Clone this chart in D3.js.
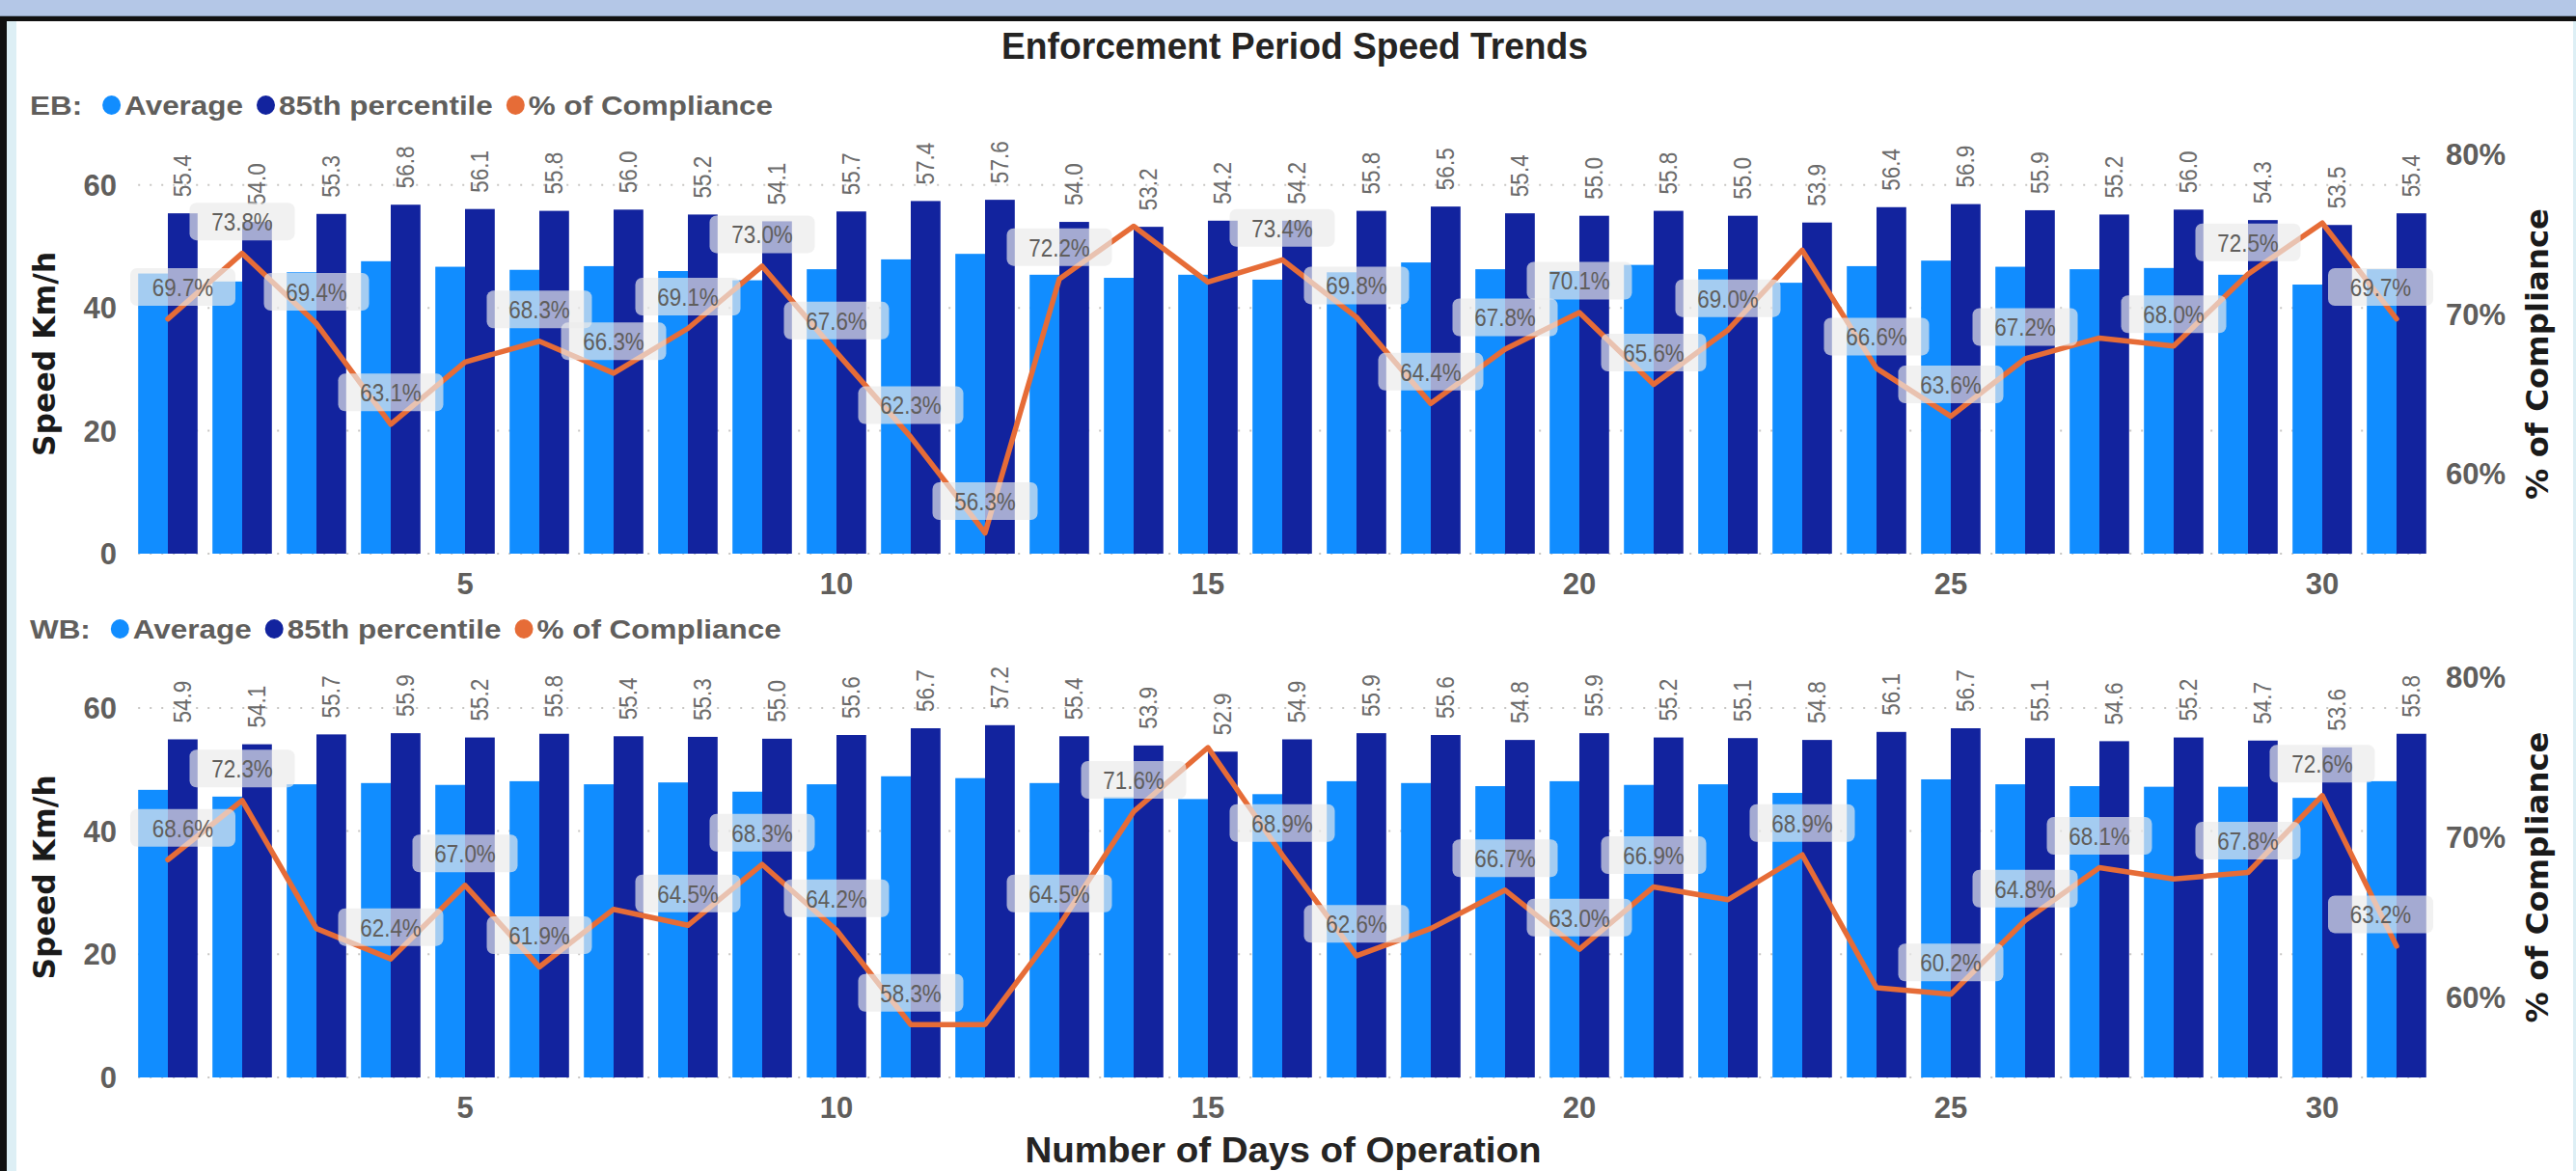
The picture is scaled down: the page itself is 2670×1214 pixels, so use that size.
<!DOCTYPE html>
<html><head><meta charset="utf-8">
<script src="https://cdn.jsdelivr.net/npm/d3@7"></script>
<style>html,body{margin:0;padding:0;background:#fff;overflow:hidden;} svg{display:block;}</style>
</head><body>
<svg id="chart" width="2670" height="1214"></svg>
<script>
// ---------- DATA ----------
const days = [1,2,3,4,5,6,7,8,9,10,11,12,13,14,15,16,17,18,19,20,21,22,23,24,25,26,27,28,29,30,31];
const xTickValues = [5,10,15,20,25,30];
const speedTicks = [0,20,40,60];
const complianceTicks = [60,70,80];
const seriesNames = ["Average","85th percentile","% of Compliance"];
const chartTitle = "Enforcement Period Speed Trends";
const xAxisTitle = "Number of Days of Operation";
const yLeftTitle = "Speed Km/h";
const yRightTitle = "% of Compliance";

const ebAverage = [45.6,44.3,45.8,47.6,46.7,46.2,46.8,46.0,44.5,46.3,47.9,48.8,45.4,44.9,45.4,44.6,45.8,47.4,46.3,46.0,47.0,46.3,44.1,46.8,47.7,46.7,46.3,46.5,45.4,43.8,46.3];
const eb85th = [55.4,54.0,55.3,56.8,56.1,55.8,56.0,55.2,54.1,55.7,57.4,57.6,54.0,53.2,54.2,54.2,55.8,56.5,55.4,55.0,55.8,55.0,53.9,56.4,56.9,55.9,55.2,56.0,54.3,53.5,55.4];
const ebCompliance = [69.7,73.8,69.4,63.1,67.0,68.3,66.3,69.1,73.0,67.6,62.3,56.3,72.2,75.5,72.0,73.4,69.8,64.4,67.8,70.1,65.6,69.0,74.0,66.6,63.6,67.2,68.5,68.0,72.5,75.7,69.7];
const ebLabeledDays = [1,2,3,4,6,7,8,9,10,11,12,13,16,17,18,19,20,21,22,24,25,26,28,29,31];

const wbAverage = [46.7,45.6,47.6,47.8,47.5,48.1,47.6,47.9,46.4,47.6,48.9,48.6,47.8,45.5,45.2,46.0,48.1,47.8,47.3,48.1,47.5,47.6,46.2,48.4,48.4,47.6,47.3,47.2,47.2,45.4,48.1];
const wb85th = [54.9,54.1,55.7,55.9,55.2,55.8,55.4,55.3,55.0,55.6,56.7,57.2,55.4,53.9,52.9,54.9,55.9,55.6,54.8,55.9,55.2,55.1,54.8,56.1,56.7,55.1,54.6,55.2,54.7,53.6,55.8];
const wbCompliance = [68.6,72.3,64.3,62.4,67.0,61.9,65.5,64.5,68.3,64.2,58.3,58.3,64.5,71.6,75.6,68.9,62.6,64.3,66.7,63.0,66.9,66.1,68.9,60.6,60.2,64.8,68.1,67.4,67.8,72.6,63.2];
const wbLabeledDays = [1,2,4,5,6,8,9,10,11,13,14,16,17,19,20,21,23,25,26,27,29,30,31];

// ---------- STYLE ----------
const colors = {avg:"#118DFF", p85:"#12239E", line:"#E66C37", tick:"#605E5C", label:"#6b6b6b", title:"#252423"};
const boldFont = "'Liberation Sans', Arial, sans-serif";
const heavyFont = "'DejaVu Sans', sans-serif";

const svg = d3.select("#chart");
const W = 2670, H = 1214;
svg.append("rect").attr("width",W).attr("height",H).attr("fill","#fff");

// frame
svg.append("rect").attr("x",0).attr("y",0).attr("width",W).attr("height",16).attr("fill","#b4c7e7");
svg.append("rect").attr("x",0).attr("y",16).attr("width",W).attr("height",1).attr("fill","#8497b0");
svg.append("rect").attr("x",0).attr("y",17).attr("width",W).attr("height",5).attr("fill","#111");
svg.append("rect").attr("x",0).attr("y",17).attr("width",7).attr("height",H-17).attr("fill","#111");
svg.append("rect").attr("x",7).attr("y",22).attr("width",10).attr("height",H-22).attr("fill","#ddeff5");
svg.append("rect").attr("x",W-3).attr("y",22).attr("width",3).attr("height",H-22).attr("fill","#ddeff5");

// title
svg.append("text").attr("x",1342).attr("y",61).attr("text-anchor","middle")
  .attr("font-family",boldFont).attr("font-weight","bold").attr("font-size",38)
  .attr("fill",colors.title).attr("textLength",608).attr("lengthAdjust","spacingAndGlyphs")
  .text(chartTitle);

// x axis title
svg.append("text").attr("x",1330).attr("y",1205).attr("text-anchor","middle")
  .attr("font-family",boldFont).attr("font-weight","bold").attr("font-size",36)
  .attr("fill",colors.title).attr("textLength",535).attr("lengthAdjust","spacingAndGlyphs")
  .text(xAxisTitle);

const x = d3.scaleLinear().domain([1,31]).range([174,2484]);
const step = x(2) - x(1);
const barW = step * 0.4;

const panels = [
  {name:"EB", avg:ebAverage, p85:eb85th, comp:ebCompliance, labeled:ebLabeledDays, top:160, bottom:574, legendY:109},
  {name:"WB", avg:wbAverage, p85:wb85th, comp:wbCompliance, labeled:wbLabeledDays, top:702, bottom:1117, legendY:652}
];

function fitText(sel, factor) {
  sel.each(function() {
    const w = this.getComputedTextLength() * factor;
    d3.select(this).attr("textLength", w).attr("lengthAdjust","spacingAndGlyphs");
  });
}

function drawLegend(name, y) {
  const g = svg.append("g");
  const sx = 1.164;
  let cx = 31;
  const fs = 27;
  function addText(t, xpos) {
    const el = g.append("text").attr("x",xpos).attr("y",y+9.5)
      .attr("font-family",boldFont).attr("font-weight","bold").attr("font-size",fs)
      .attr("fill",colors.tick).text(t);
    const w = el.node().getComputedTextLength() * sx;
    el.attr("textLength",w).attr("lengthAdjust","spacingAndGlyphs");
    return w;
  }
  cx += addText(name + ":", cx) + 21;
  const cols = [colors.avg, colors.p85, colors.line];
  seriesNames.forEach((s,i) => {
    g.append("ellipse").attr("cx",cx+9.5).attr("cy",y).attr("rx",9.5).attr("ry",10).attr("fill",cols[i]);
    cx += 19 + 4;
    cx += addText(s, cx) + 14;
  });
}

panels.forEach(p => {
  const yL = d3.scaleLinear().domain([0,65]).range([p.bottom,p.top]);
  const yR = d3.scaleLinear().domain([55,80]).range([p.bottom,p.top]);
  const g = svg.append("g");

  drawLegend(p.name, p.legendY);

  // gridlines
  g.selectAll(".grid").data(speedTicks).enter().append("line")
    .attr("x1",x(1)-barW).attr("x2",x(31)+barW)
    .attr("y1",d=>yL(d)).attr("y2",d=>yL(d))
    .attr("stroke","#c8c6c4").attr("stroke-width",2).attr("stroke-dasharray","2,10");

  // left ticks
  g.selectAll(".lt").data(speedTicks).enter().append("text")
    .attr("x",121).attr("y",d=>yL(d)).attr("dy","0.36em").attr("text-anchor","end")
    .attr("font-family",boldFont).attr("font-weight","bold").attr("font-size",31)
    .attr("fill",colors.tick).text(d=>d);
  // right ticks
  g.selectAll(".rt").data(complianceTicks).enter().append("text")
    .attr("x",2535).attr("y",d=>yR(d)).attr("dy","0.36em").attr("text-anchor","start")
    .attr("font-family",boldFont).attr("font-weight","bold").attr("font-size",31)
    .attr("fill",colors.tick).text(d=>d+"%");
  // x ticks
  g.selectAll(".xt").data(xTickValues).enter().append("text")
    .attr("x",d=>x(d)).attr("y",p.bottom+31).attr("dy","0.36em").attr("text-anchor","middle")
    .attr("font-family",boldFont).attr("font-weight","bold").attr("font-size",31)
    .attr("fill",colors.tick).text(d=>d);

  // axis titles
  const cy = (p.top+p.bottom)/2;
  g.append("text").attr("transform",`translate(45,${cy}) rotate(-90)`)
    .attr("text-anchor","middle").attr("dy","0.36em")
    .attr("font-family",heavyFont).attr("font-weight","bold").attr("font-size",32)
    .attr("fill","#1a1a1a").attr("textLength",212).attr("lengthAdjust","spacingAndGlyphs").text(yLeftTitle);
  g.append("text").attr("transform",`translate(2629,${cy}) rotate(-90)`)
    .attr("text-anchor","middle").attr("dy","0.36em")
    .attr("font-family",heavyFont).attr("font-weight","bold").attr("font-size",32)
    .attr("fill","#1a1a1a").attr("textLength",302).attr("lengthAdjust","spacingAndGlyphs").text(yRightTitle);

  // bars
  g.selectAll(".avg").data(days).enter().append("rect")
    .attr("x",d=>x(d)-barW).attr("width",barW)
    .attr("y",(d,i)=>yL(p.avg[i])).attr("height",(d,i)=>yL(0)-yL(p.avg[i]))
    .attr("fill",colors.avg);
  g.selectAll(".p85").data(days).enter().append("rect")
    .attr("x",d=>x(d)).attr("width",barW)
    .attr("y",(d,i)=>yL(p.p85[i])).attr("height",(d,i)=>yL(0)-yL(p.p85[i]))
    .attr("fill",colors.p85);

  // 85th labels
  const p85l = g.selectAll(".p85l").data(days).enter().append("text")
    .attr("transform",(d,i)=>`translate(${x(d)+barW/2},${yL(p.p85[i])-17}) rotate(-90)`)
    .attr("dy","0.36em").attr("text-anchor","start")
    .attr("font-family",boldFont).attr("font-size",25).attr("fill",colors.label)
    .text((d,i)=>p.p85[i].toFixed(1));
  fitText(p85l, 0.9);

  // compliance line
  const line = d3.line().x(d=>x(d)).y((d,i)=>yR(p.comp[i]));
  g.append("path").datum(days).attr("d",line)
    .attr("fill","none").attr("stroke",colors.line).attr("stroke-width",5.5)
    .attr("stroke-linejoin","round").attr("stroke-linecap","round");

  // compliance labels
  const bw = 109, bh = 39;
  const lab = g.selectAll(".cl").data(p.labeled).enter().append("g")
    .attr("transform", d => {
      const cx = Math.max(135+bw/2, Math.min(2522-bw/2, x(d)));
      return `translate(${cx},${yR(p.comp[d-1])-33})`;
    });
  lab.append("rect").attr("x",-bw/2).attr("y",-bh/2).attr("width",bw).attr("height",bh)
    .attr("rx",7).attr("fill","#ebebeb").attr("fill-opacity",0.68);
  const lt = lab.append("text").attr("text-anchor","middle").attr("dy","0.36em")
    .attr("font-family",boldFont).attr("font-size",26).attr("fill","#605E5C")
    .text(d=>p.comp[d-1].toFixed(1)+"%");
  fitText(lt, 0.86);
});
</script>
</body></html>
